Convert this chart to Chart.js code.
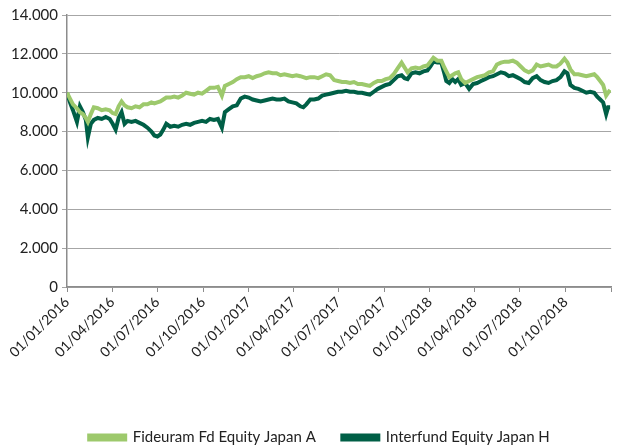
<!DOCTYPE html>
<html>
<head>
<meta charset="utf-8">
<script src="https://cdn.jsdelivr.net/npm/chart.js@4.4.1/dist/chart.umd.min.js"></script>
<style>
  html, body { margin: 0; padding: 0; background: #fff; }
  #wrap { width: 625px; height: 447px; position: relative; }
</style>
</head>
<body>
<div id="wrap"><canvas id="chart"></canvas></div>
<script>
// days since 01/01/2016 for each observation
const dayOffsets = [
  0, 6, 12, 20, 26, 32, 38, 42, 48, 54, 62, 70, 78, 86, 92, 98, 104, 110, 116, 122,
  130, 138, 146, 154, 162, 170, 176, 182, 188, 194, 200, 208, 216, 224, 232, 240, 248, 256, 264, 272,
  280, 288, 296, 304, 312, 318, 326, 334, 342, 350, 358, 366, 374, 382, 390, 398, 406, 414, 422, 430,
  438, 446, 454, 462, 470, 476, 482, 490, 498, 506, 514, 522, 530, 538, 546, 554, 562, 570, 578, 586,
  594, 602, 610, 618, 626, 634, 642, 650, 658, 666, 674, 680, 686, 694, 702, 710, 718, 726, 732, 738,
  746, 754, 760, 764, 770, 776, 782, 788, 794, 802, 810, 818, 826, 834, 842, 850, 858, 866, 874, 882,
  890, 898, 906, 914, 922, 930, 938, 946, 954, 962, 970, 978, 986, 994, 1002, 1008, 1014, 1022, 1030, 1038,
  1046, 1054, 1062, 1068, 1074, 1080, 1086, 1090, 1094
];

const fideuramValues = [
  10000, 9700, 9400, 9200, 9000, 8900, 8700, 8500, 8900, 9250, 9200, 9100, 9150, 9100, 8950, 8900, 9300, 9550, 9350, 9250,
  9200, 9300, 9250, 9400, 9400, 9500, 9450, 9500, 9550, 9650, 9750, 9750, 9800, 9750, 9850, 10000, 9950, 9900, 10000, 9950,
  10100, 10250, 10250, 10300, 9850, 10350, 10450, 10550, 10700, 10800, 10800, 10850, 10750, 10850, 10900, 11000, 11050, 11000, 11000, 10900,
  10950, 10900, 10850, 10900, 10850, 10800, 10750, 10800, 10800, 10750, 10850, 10950, 10900, 10650, 10600, 10550, 10550, 10500, 10550, 10450,
  10450, 10400, 10350, 10500, 10600, 10600, 10700, 10750, 10950, 11250, 11550, 11300, 11050, 11250, 11300, 11250, 11350, 11400, 11600, 11800,
  11650, 11650, 11300, 11100, 10800, 10900, 11000, 11050, 10700, 10500, 10600, 10700, 10800, 10850, 10900, 11050, 11100, 11450, 11550, 11600,
  11600, 11650, 11550, 11350, 11150, 11050, 11150, 11450, 11350, 11400, 11450, 11350, 11350, 11500, 11750, 11550, 11200, 10950, 10950, 10900,
  10850, 10900, 10950, 10800, 10600, 10400, 9850, 10000, 10150
];

const interfundValues = [
  10000, 9500, 9100, 8500, 9300, 9000, 8600, 7700, 8400, 8600, 8700, 8650, 8750, 8650, 8400, 8100, 8700, 9000, 8400, 8550,
  8500, 8550, 8450, 8350, 8200, 8000, 7800, 7750, 7850, 8100, 8400, 8250, 8300, 8250, 8350, 8400, 8350, 8450, 8500, 8550,
  8500, 8650, 8600, 8650, 8200, 9000, 9150, 9300, 9350, 9700, 9800, 9750, 9650, 9600, 9550, 9600, 9650, 9700, 9650, 9650,
  9700, 9550, 9500, 9450, 9300, 9250, 9400, 9650, 9650, 9700, 9850, 9900, 9950, 10000, 10050, 10050, 10100, 10050, 10050, 10000,
  10000, 9950, 9900, 10050, 10200, 10300, 10400, 10450, 10650, 10850, 10900, 10750, 10700, 11000, 11050, 11000, 11100, 11150, 11350, 11600,
  11550, 11550, 11000, 10600, 10500, 10700, 10550, 10700, 10400, 10500, 10200, 10450, 10500, 10600, 10700, 10800, 10850, 10950, 11050, 11000,
  10850, 10900, 10800, 10700, 10550, 10500, 10750, 10850, 10650, 10550, 10500, 10600, 10650, 10800, 11100, 11000, 10400, 10250, 10200, 10100,
  10000, 10050, 10000, 9800, 9650, 9500, 8900, 9250, 9250
];

// quarter starts (days since 01/01/2016) and their labels
const tickDays = [0, 91, 182, 274, 366, 456, 547, 639, 731, 821, 912, 1004, 1096];
const tickLabels = [
  '01/01/2016', '01/04/2016', '01/07/2016', '01/10/2016',
  '01/01/2017', '01/04/2017', '01/07/2017', '01/10/2017',
  '01/01/2018', '01/04/2018', '01/07/2018', '01/10/2018', ''
];
const yTicks = [0, 2000, 4000, 6000, 8000, 10000, 12000, 14000];

const LIGHT = '#9dc96c';
const DARK = '#005f46';
const AXIS = '#8c8c8c';
const FONT = { family: 'Lato, "Open Sans", sans-serif', size: 14 };

function fmtThousands(v) {
  return String(Math.round(v)).replace(/\B(?=(\d{3})+(?!\d))/g, '.');
}

function toPoints(values) {
  return values.map((v, i) => ({ x: dayOffsets[i], y: v }));
}

// nudge the legend a little lower and to the right, like the original
const legendNudge = {
  id: 'legendNudge',
  afterLayout(chart) {
    if (!chart.legend) return;
    chart.legend.top += 8;
    chart.legend.bottom += 8;
    chart.legend.left += 24;
  },
};

Chart.defaults.color = '#222';
Chart.defaults.font = FONT;

new Chart(document.getElementById('chart'), {
  type: 'line',
  plugins: [legendNudge],
  data: {
    datasets: [
      {
        label: 'Fideuram Fd Equity Japan A',
        data: toPoints(fideuramValues),
        borderColor: LIGHT,
        backgroundColor: LIGHT,
        borderWidth: 4,
        pointRadius: 0,
        tension: 0,
      },
      {
        label: 'Interfund Equity Japan H',
        data: toPoints(interfundValues),
        borderColor: DARK,
        backgroundColor: DARK,
        borderWidth: 4,
        pointRadius: 0,
        tension: 0,
      },
    ],
  },
  options: {
    responsive: true,
    maintainAspectRatio: false,
    animation: false,
    layout: { padding: { top: 15, right: 10, left: 0, bottom: 0 } },
    plugins: {
      legend: {
        position: 'bottom',
        labels: {
          boxWidth: 36,
          boxHeight: 4,
          padding: 4,
          color: '#222',
          font: { family: FONT.family, size: 15 },
          // widen the gap between the two entries
          generateLabels(chart) {
            const items = Chart.defaults.plugins.legend.labels.generateLabels(chart);
            items[0].text += '\u2003\u2003';
            return items;
          },
        },
      },
      tooltip: { enabled: false },
    },
    scales: {
      x: {
        type: 'linear',
        min: 0,
        max: 1096,
        afterBuildTicks(scale) {
          scale.ticks = tickDays.map((d) => ({ value: d }));
        },
        afterFit(scale) {
          scale.height = 131;
        },
        ticks: {
          autoSkip: false,
          maxRotation: 45,
          minRotation: 45,
          padding: 2,
          callback: (v) => tickLabels[tickDays.indexOf(v)] ?? '',
        },
        grid: { drawOnChartArea: false, color: AXIS, tickLength: 5 },
        border: { color: AXIS, width: 1.5 },
      },
      y: {
        min: 0,
        max: 14000,
        afterBuildTicks(scale) {
          scale.ticks = yTicks.map((v) => ({ value: v }));
        },
        afterFit(scale) {
          scale.width = 67;
        },
        ticks: { padding: 4, font: { family: FONT.family, size: 15 }, callback: (v) => fmtThousands(v) },
        grid: { color: '#a6a6a6', lineWidth: 1, tickLength: 5 },
        border: { color: AXIS, width: 1.5 },
      },
    },
  },
});
</script>
</body>
</html>
